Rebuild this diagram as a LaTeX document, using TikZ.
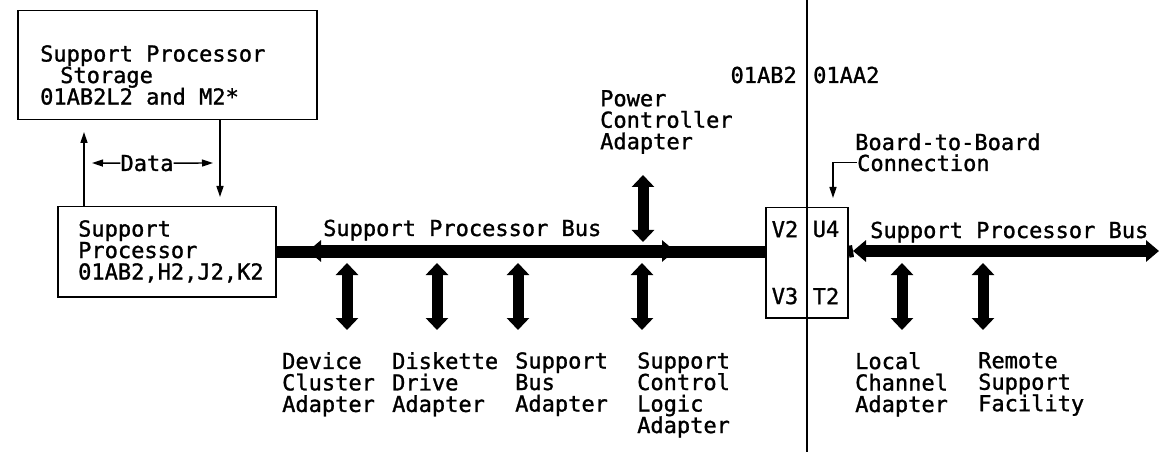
\documentclass[tikz,border=0pt]{standalone}
\usepackage{fontspec}
\newfontfamily\ibm[FakeBold=1.2]{DejaVu Sans Mono}
\usetikzlibrary{arrows.meta}
\begin{document}
\begin{tikzpicture}[x=1pt,y=-1pt,
  every node/.style={font=\ibm\fontsize{22}{21.5}\selectfont, inner sep=0pt, align=left},
  blk/.style={draw, line width=1.5pt, minimum width=0pt, minimum height=0pt},
  busbar/.style={line width=12pt},
  bushead/.style={line width=12pt, {Triangle[length=13pt,width=21pt]}-{Triangle[length=13pt,width=21pt]}},
  vbus/.style={line width=11pt, {Triangle[length=12pt,width=22pt]}-{Triangle[length=12pt,width=22pt]}},
  wire/.style={line width=1.4pt},
  tipped/.style={-{Triangle[length=11pt,width=7pt]}},
]
\useasboundingbox (0,0) rectangle (1159,457);
\fill[white] (0,0) rectangle (1159,457);

% boxes
\node[blk, anchor=north west, minimum width=299pt, minimum height=109pt] (stor) at (17,10) {};
\node[anchor=north west] (stortxt) at (40,45) {Support Processor\\\hspace*{20pt}Storage\\01AB2L2 and M2*};

\node[blk, anchor=north west, minimum width=218pt, minimum height=90pt] (proc) at (57,206) {};
\node[anchor=north west] (proctxt) at (78,220) {Support\\Processor\\01AB2,H2,J2,K2};

\node[blk, anchor=north west, minimum width=82pt, minimum height=110pt] (bb) at (765,207) {};
\node (v2) at (785,229) {V2};
\node (u4) at (826,229) {U4};
\node (v3) at (785,296) {V3};
\node (t2) at (826,296) {T2};

% divider
\coordinate (divtop) at (807,0);
\coordinate (divbot) at (807,452);
\draw[wire] (divtop) -- (divbot);
\node[anchor=base east] (b01ab2) at (797,83) {01AB2};
\node[anchor=base west] (b01aa2) at (813,83) {01AA2};

% data arrows
\node[anchor=base] (data) at (147,171) {Data};
\coordinate (dl) at (92,163);
\coordinate (dr) at (213,163);
\draw[wire,tipped] (data.west) -- (dl);
\draw[wire,tipped] (data.east) -- (dr);
\coordinate (uptip) at (84,132);
\draw[wire,tipped] (uptip |- proc.north) -- (uptip);
\coordinate (dntip) at (220,197);
\draw[wire,tipped] (dntip |- stor.south) -- (dntip);

% left bus
\draw[busbar] (proc.east) -- (bb.west |- proc.east);
\coordinate (lh1) at (308,251);
\coordinate (lh2) at (675,251);
\draw[bushead] (lh1) -- (lh2);
\node[anchor=base west] (lbus) at (323,236) {Support Processor Bus};

% right bus
\coordinate (rh1) at (853,251);
\coordinate (rend) at (1159,251);
\draw[busbar] (bb.east |- proc.east) -- (rh1);
\draw[bushead] (rh1) -- (rend);
\node[anchor=base west] (rbus) at (870,238) {Support Processor Bus};

% board-to-board
\node[anchor=base west] (btb) at (855,150) {Board-to-Board};
\node[anchor=base west] (conn) at (857,171) {Connection};
\coordinate (bctip) at (833,198);
\draw[wire,tipped] (conn.west) -| (bctip);

% power controller
\node[anchor=north west] (pca) at (600,90) {Power\\Controller\\Adapter};
\coordinate (pcaT) at (643,175);
\coordinate (pcaB) at (643,242);
\draw[vbus] (pcaT) -- (pcaB);

% lower adapters
\coordinate (dcaT) at (347,263); \coordinate (dcaB) at (347,330);
\coordinate (ddaT) at (437,263); \coordinate (ddaB) at (437,330);
\coordinate (sbaT) at (518,263); \coordinate (sbaB) at (518,330);
\coordinate (sclT) at (642,263); \coordinate (sclB) at (642,330);
\coordinate (lcaT) at (902,263); \coordinate (lcaB) at (902,330);
\coordinate (rsfT) at (983,263); \coordinate (rsfB) at (983,330);
\draw[vbus] (dcaT) -- (dcaB);
\draw[vbus] (ddaT) -- (ddaB);
\draw[vbus] (sbaT) -- (sbaB);
\draw[vbus] (sclT) -- (sclB);
\draw[vbus] (lcaT) -- (lcaB);
\draw[vbus] (rsfT) -- (rsfB);

\node[anchor=north west] (dca) at (282,352) {Device\\Cluster\\Adapter};
\node[anchor=north west] (dda) at (392,352) {Diskette\\Drive\\Adapter};
\node[anchor=north west] (sba) at (515,352) {Support\\Bus\\Adapter};
\node[anchor=north west] (scl) at (637,352) {Support\\Control\\Logic\\Adapter};
\node[anchor=north west] (lca) at (855,352) {Local\\Channel\\Adapter};
\node[anchor=north west] (rsf) at (978,352) {Remote\\Support\\Facility};
\end{tikzpicture}
\end{document}
